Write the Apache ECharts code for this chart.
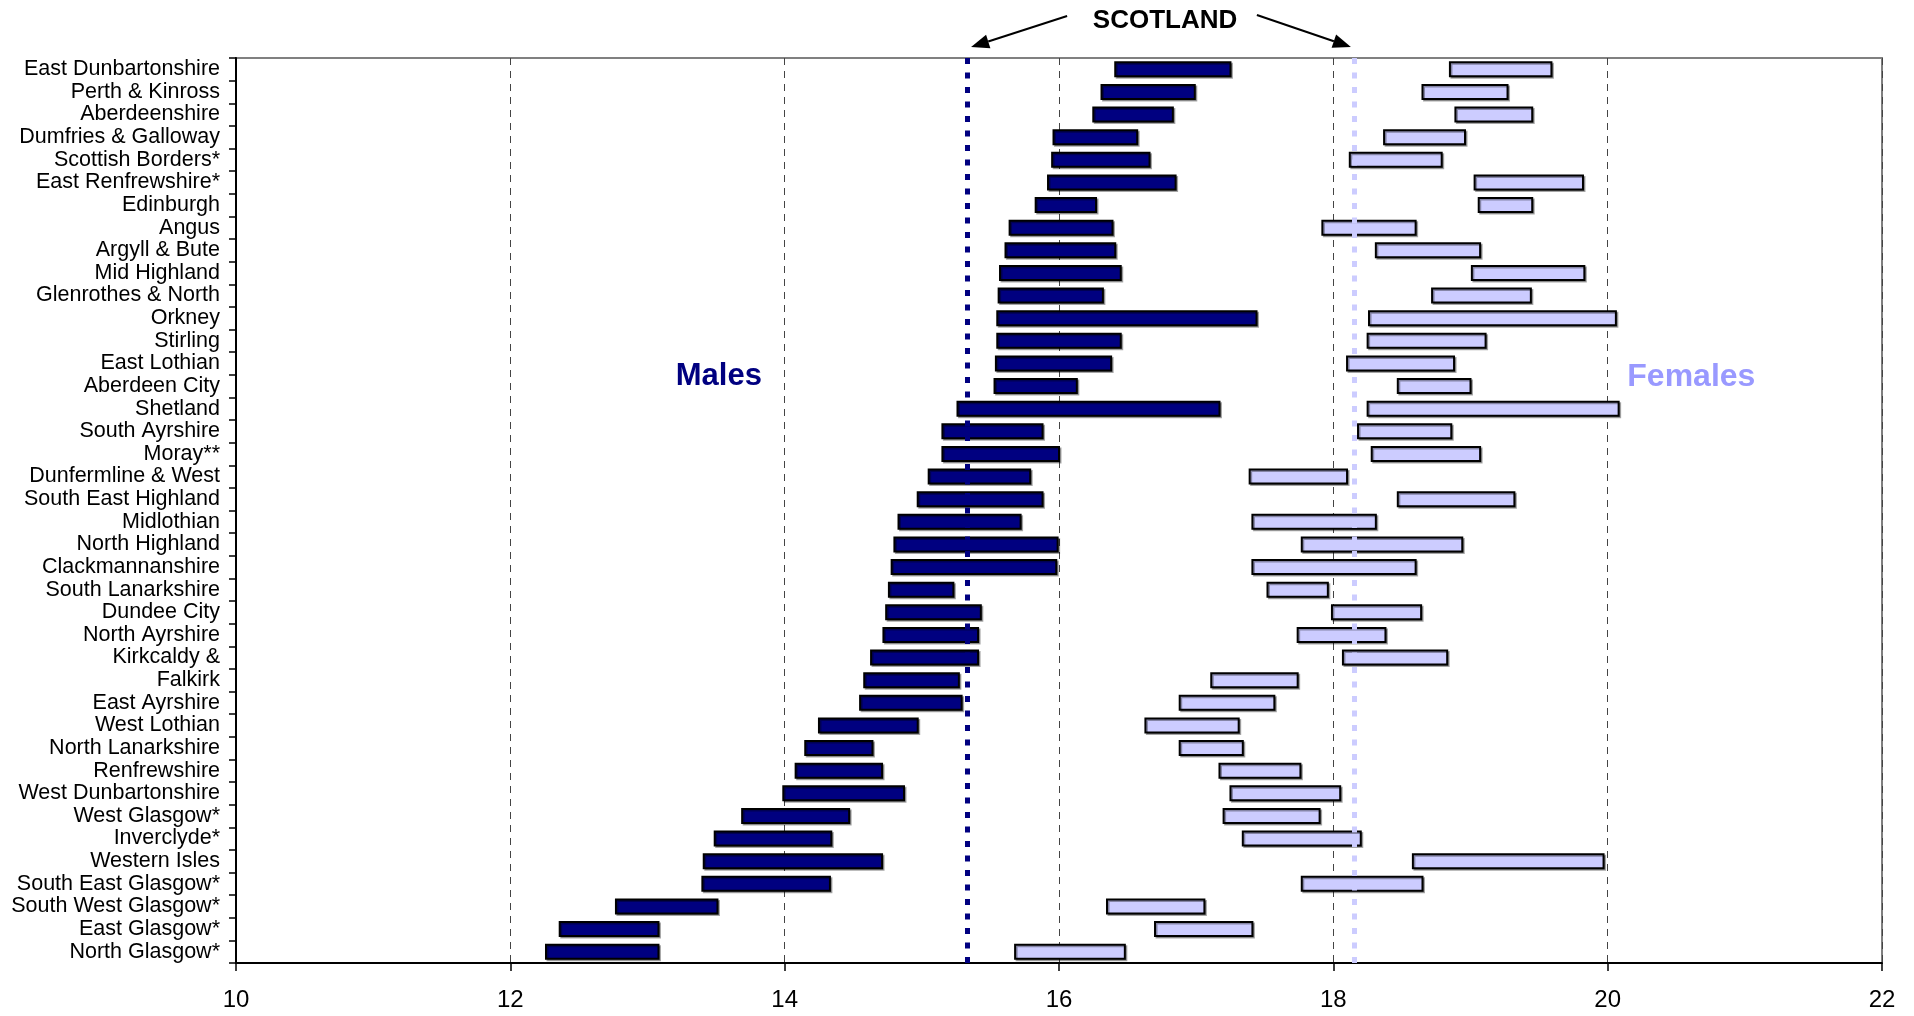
<!DOCTYPE html>
<html>
<head>
<meta charset="utf-8">
<script src="https://cdn.jsdelivr.net/npm/echarts@6/dist/echarts.min.js"></script>
<style>
html,body{margin:0;padding:0;background:#fff;}
#chart{width:1914px;height:1016px;}
</style>
</head>
<body>
<div id="chart"></div>
<script>
var categories = ['East Dunbartonshire','Perth & Kinross','Aberdeenshire','Dumfries & Galloway','Scottish Borders*','East Renfrewshire*','Edinburgh','Angus','Argyll & Bute','Mid Highland','Glenrothes & North','Orkney','Stirling','East Lothian','Aberdeen City','Shetland','South Ayrshire','Moray**','Dunfermline & West','South East Highland','Midlothian','North Highland','Clackmannanshire','South Lanarkshire','Dundee City','North Ayrshire','Kirkcaldy &','Falkirk','East Ayrshire','West Lothian','North Lanarkshire','Renfrewshire','West Dunbartonshire','West Glasgow*','Inverclyde*','Western Isles','South East Glasgow*','South West Glasgow*','East Glasgow*','North Glasgow*'];

var maleLow  = [16.41,16.31,16.25,15.96,15.95,15.92,15.83,15.64,15.61,15.57,15.56,15.55,15.55,15.54,15.53,15.26,15.15,15.15,15.05,14.97,14.83,14.80,14.78,14.76,14.74,14.72,14.63,14.58,14.55,14.25,14.15,14.08,13.99,13.69,13.49,13.41,13.40,12.77,12.36,12.26];
var maleHigh = [17.25,16.99,16.83,16.57,16.66,16.85,16.27,16.39,16.41,16.45,16.32,17.44,16.45,16.38,16.13,17.17,15.88,16.00,15.79,15.88,15.72,15.99,15.98,15.23,15.43,15.41,15.41,15.27,15.29,14.97,14.64,14.71,14.87,14.47,14.34,14.71,14.33,13.51,13.08,13.08];

var femaleLow  = [18.85,18.65,18.89,18.37,18.12,19.03,19.06,17.92,18.31,19.01,18.72,18.26,18.25,18.10,18.47,18.25,18.18,18.28,17.39,18.47,17.41,17.77,17.41,17.52,17.99,17.74,18.07,17.11,16.88,16.63,16.88,17.17,17.25,17.20,17.34,18.58,17.77,16.35,16.70,15.68];
var femaleHigh = [19.59,19.27,19.45,18.96,18.79,19.82,19.45,18.60,19.07,19.83,19.44,20.06,19.11,18.88,19.00,20.08,18.86,19.07,18.10,19.32,18.31,18.94,18.60,17.96,18.64,18.38,18.83,17.74,17.57,17.31,17.34,17.76,18.05,17.90,18.20,19.97,18.65,17.06,17.41,16.48];

var scotlandMale = 15.33;
var scotlandFemale = 18.15;
var xTicks = [10, 12, 14, 16, 18, 20, 22];

var FONT = '"Liberation Sans", Arial, sans-serif';
var MALE_COLOR = '#000080';
var FEMALE_COLOR = '#CCCCFF';

function buildData(lo, hi){
  return categories.map(function(c, i){ return [i, lo[i], hi[i]]; });
}

function makeRender(fill){
  return function(params, api){
    var idx = api.value(0);
    var s = api.coord([api.value(1), idx]);
    var e = api.coord([api.value(2), idx]);
    var h = api.size([0, 1])[1] * 0.62;
    return {
      type: 'rect',
      shape: { x: s[0], y: s[1] - h / 2, width: e[0] - s[0], height: h },
      style: {
        fill: fill, stroke: '#000', lineWidth: 2,
        shadowColor: 'rgba(0,0,0,0.35)', shadowOffsetX: 1.5, shadowOffsetY: 1.5, shadowBlur: 0
      }
    };
  };
}

var chart = echarts.init(document.getElementById('chart'));
var option = {
  animation: false,
  backgroundColor: '#fff',
  grid: { left: 236, right: 32, top: 58, bottom: 53, show: true, borderColor: '#808080', borderWidth: 2, containLabel: false },
  xAxis: {
    type: 'value', min: xTicks[0], max: xTicks[xTicks.length - 1], interval: 2,
    axisLine: { show: true, lineStyle: { color: '#000', width: 2 } },
    axisTick: { show: true, length: 8, lineStyle: { color: '#000', width: 1.5 } },
    axisLabel: { fontFamily: FONT, fontSize: 24, color: '#000', margin: 25 },
    splitLine: { show: true, lineStyle: { color: '#444', width: 1, type: [7, 6] } }
  },
  yAxis: {
    type: 'category', data: categories, inverse: true,
    axisLine: { show: true, lineStyle: { color: '#000', width: 2 } },
    axisTick: { show: true, length: 7, lineStyle: { color: '#000', width: 1.5 } },
    axisLabel: { fontFamily: FONT, fontSize: 21.5, color: '#000', margin: 16, interval: 0 },
    splitLine: { show: false }
  },
  series: [
    {
      type: 'custom', name: 'Males', data: buildData(maleLow, maleHigh),
      renderItem: makeRender(MALE_COLOR),
      encode: { x: [1, 2], y: 0 },
      z: 2,
      markLine: {
        silent: true, symbol: 'none', z: 10,
        label: { show: false },
        lineStyle: { color: MALE_COLOR, width: 5, type: [6, 8.5] },
        data: [{ xAxis: scotlandMale }]
      }
    },
    {
      type: 'custom', name: 'Females', data: buildData(femaleLow, femaleHigh),
      renderItem: makeRender(FEMALE_COLOR),
      encode: { x: [1, 2], y: 0 },
      z: 2,
      markLine: {
        silent: true, symbol: 'none', z: 10,
        label: { show: false },
        lineStyle: { color: FEMALE_COLOR, width: 5, type: [6, 8.5] },
        data: [{ xAxis: scotlandFemale }]
      }
    }
  ]
};
chart.setOption(option);

// Annotations positioned through the chart's own scales
var pM = chart.convertToPixel({ gridIndex: 0 }, [scotlandMale, 0]);
var pF = chart.convertToPixel({ gridIndex: 0 }, [scotlandFemale, 0]);
var r13 = chart.convertToPixel({ gridIndex: 0 }, [13.52, 13]);
var r14 = chart.convertToPixel({ gridIndex: 0 }, [13.52, 14]);
var lblY = (r13[1] + r14[1]) / 2 + 2;
var femX = chart.convertToPixel({ gridIndex: 0 }, [20.61, 13])[0];

function arrow(x1, y1, x2, y2){
  var ang = Math.atan2(y2 - y1, x2 - x1);
  var L = 18, W = 7;
  var bx = x2 - L * Math.cos(ang), by = y2 - L * Math.sin(ang);
  var nx = -Math.sin(ang), ny = Math.cos(ang);
  return [
    { type: 'line', shape: { x1: x1, y1: y1, x2: bx, y2: by }, style: { stroke: '#000', lineWidth: 2 }, z: 20 },
    { type: 'polygon', shape: { points: [[x2, y2], [bx + nx * W, by + ny * W], [bx - nx * W, by - ny * W]] }, style: { fill: '#000' }, z: 20 }
  ];
}

var tipY = 47;
var midX = (pM[0] + pF[0]) / 2;
var graphics = [];
graphics = graphics.concat(arrow(pM[0] + 100, 16, pM[0] + 4, tipY));
graphics = graphics.concat(arrow(pF[0] - 97, 15, pF[0] - 3, tipY));
graphics.push({ type: 'text', x: midX + 4.5, y: 21, style: { text: 'SCOTLAND', font: 'bold 26px ' + FONT, fill: '#000', align: 'center', verticalAlign: 'middle' }, z: 20 });
graphics.push({ type: 'text', x: r13[0], y: lblY, style: { text: 'Males', font: 'bold 31px ' + FONT, fill: MALE_COLOR, align: 'center', verticalAlign: 'middle' }, z: 20 });
graphics.push({ type: 'text', x: femX, y: lblY, style: { text: 'Females', font: 'bold 32px ' + FONT, fill: '#9999FF', align: 'center', verticalAlign: 'middle' }, z: 20 });
chart.setOption({ graphic: graphics });
</script>
</body>
</html>
